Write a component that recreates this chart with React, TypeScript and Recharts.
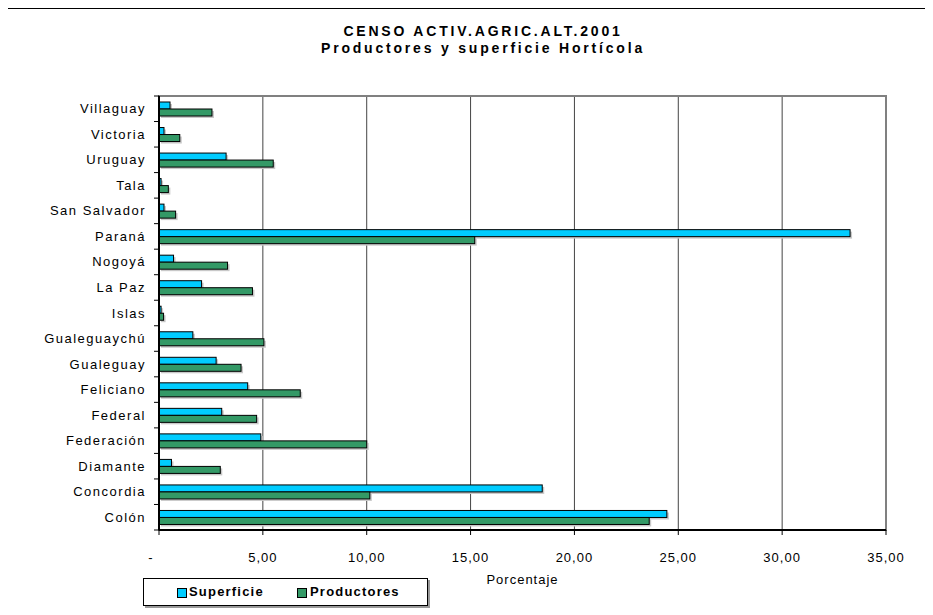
import React from "react";
import {
  BarChart,
  Bar,
  XAxis,
  YAxis,
  CartesianGrid,
  ReferenceArea,
} from "recharts";

const categories = [
  "Villaguay",
  "Victoria",
  "Uruguay",
  "Tala",
  "San Salvador",
  "Paraná",
  "Nogoyá",
  "La Paz",
  "Islas",
  "Gualeguaychú",
  "Gualeguay",
  "Feliciano",
  "Federal",
  "Federación",
  "Diamante",
  "Concordia",
  "Colón",
];

const superficie = [
  0.53, 0.24, 3.23, 0.1, 0.24, 33.27, 0.7, 2.05, 0.1, 1.63, 2.75, 4.27, 3.02, 4.9, 0.6, 18.45, 24.45,
];

const productores = [
  2.55, 1.0, 5.5, 0.45, 0.8, 15.2, 3.3, 4.5, 0.22, 5.05, 3.95, 6.8, 4.7, 10.0, 2.95, 10.15, 23.6,
];

const xTicks = [0, 5, 10, 15, 20, 25, 30, 35];

const BLUE = "#00CCFF";
const GREEN = "#339966";
const FONT = "'Liberation Sans', Arial, sans-serif";

const data = categories.map((name, i) => ({
  name,
  Superficie: superficie[i],
  Productores: productores[i],
}));

// chart geometry
const W = 925;
const H = 599;
const M = { top: 87, right: 47, left: 0, bottom: 18 };
const Y_AXIS_W = 151;
const X_AXIS_H = 60;
const plotH = H - M.top - M.bottom - X_AXIS_H;
const band = plotH / categories.length;

const ShadowBar = (props: any) => {
  const { x, y, width, height, fill } = props;
  if (!width || width <= 0) return null;
  return (
    <g>
      <rect x={x + 2} y={y + 2} width={width} height={height} fill="#c8c8c8" />
      <rect x={x} y={y} width={width} height={height} fill={fill} stroke="#000" strokeWidth={1} />
    </g>
  );
};

const YTick = (props: any) => {
  const { x, y, payload, index } = props;
  const axisX = x + 8;
  return (
    <g>
      <line x1={axisX - 5} x2={axisX} y1={y + band / 2} y2={y + band / 2} stroke="#000" />
      {index === 0 && (
        <line x1={axisX - 5} x2={axisX} y1={y - band / 2} y2={y - band / 2} stroke="#000" />
      )}
      <text
        x={x - 5}
        y={y}
        dy="0.35em"
        textAnchor="end"
        fontFamily={FONT}
        fontSize={13}
        letterSpacing={1.5}
        fill="#000"
      >
        {payload.value}
      </text>
    </g>
  );
};

const XTick = (props: any) => {
  const { x, y, payload } = props;
  const v = payload.value as number;
  const label = v === 0 ? "-" : v.toFixed(2).replace(".", ",");
  return (
    <text
      x={v === 0 ? x - 8 : x}
      y={y}
      dy="0.71em"
      textAnchor="middle"
      fontFamily={FONT}
      fontSize={13}
      letterSpacing={1}
      fill="#000"
    >
      {label}
    </text>
  );
};

const legendItems = [
  { name: "Superficie", color: BLUE, sq: 33, tx: 45 },
  { name: "Productores", color: GREEN, sq: 153, tx: 166 },
];

const LegendBox = () => (
  <div
    style={{
      position: "absolute",
      left: 135,
      top: 569,
      width: 285,
      height: 28,
      border: "1px solid #000",
      boxShadow: "2px 2px 0 #999",
      background: "#fff",
      fontFamily: FONT,
      fontWeight: "bold",
      fontSize: 13,
      boxSizing: "border-box",
    }}
  >
    {legendItems.map((it) => (
      <React.Fragment key={it.name}>
        <span
          style={{
            position: "absolute",
            left: it.sq,
            top: 9,
            width: 8,
            height: 8,
            background: it.color,
            border: "1px solid #000",
          }}
        />
        <span style={{ position: "absolute", left: it.tx, top: 5, letterSpacing: 1.2 }}>
          {it.name}
        </span>
      </React.Fragment>
    ))}
  </div>
);

export default function App() {
  return (
    <div
      style={{
        position: "relative",
        width: W,
        height: H,
        marginLeft: -1,
        borderTop: "1px solid #000",
        borderLeft: "1px solid #000",
        background: "#fff",
        fontFamily: FONT,
      }}
    >
      {/* Title */}
      <div
        style={{
          position: "absolute",
          left: 300,
          width: 350,
          top: 14,
          textAlign: "center",
          fontFamily: FONT,
          fontWeight: "bold",
          fontSize: 14,
          lineHeight: "17px",
          letterSpacing: 2.8,
          whiteSpace: "nowrap",
        }}
      >
        <div>CENSO ACTIV.AGRIC.ALT.2001</div>
        <div>Productores y superficie Hortícola</div>
      </div>
      <BarChart
        width={W}
        height={H}
        data={data}
        layout="vertical"
        margin={M}
        barSize={7}
        barGap={0}
        style={{ position: "absolute", left: 0, top: 0 }}
      >
        <ReferenceArea
          x1={0}
          x2={35}
          fill="none"
          stroke="#808080"
          strokeWidth={2}
          ifOverflow="visible"
        />
        <CartesianGrid horizontal={false} stroke="#444" strokeWidth={1} />
        <XAxis
          type="number"
          domain={[0, 35]}
          ticks={xTicks}
          allowDataOverflow
          height={X_AXIS_H}
          axisLine={{ stroke: "#000", strokeWidth: 2 }}
          tickLine={{ stroke: "#000" }}
          tickSize={5}
          tickMargin={18}
          tick={<XTick />}
          label={{
            value: "Porcentaje",
            position: "insideBottom",
            offset: 6,
            fill: "#000",
            fontFamily: FONT,
            fontSize: 13,
            letterSpacing: 1,
          }}
        />
        <YAxis
          type="category"
          dataKey="name"
          width={Y_AXIS_W}
          axisLine={{ stroke: "#000", strokeWidth: 2 }}
          tickLine={false}
          interval={0}
          tick={<YTick />}
        />
        <Bar dataKey="Superficie" fill={BLUE} shape={<ShadowBar />} isAnimationActive={false} />
        <Bar dataKey="Productores" fill={GREEN} shape={<ShadowBar />} isAnimationActive={false} />
      </BarChart>
      <LegendBox />
    </div>
  );
}
